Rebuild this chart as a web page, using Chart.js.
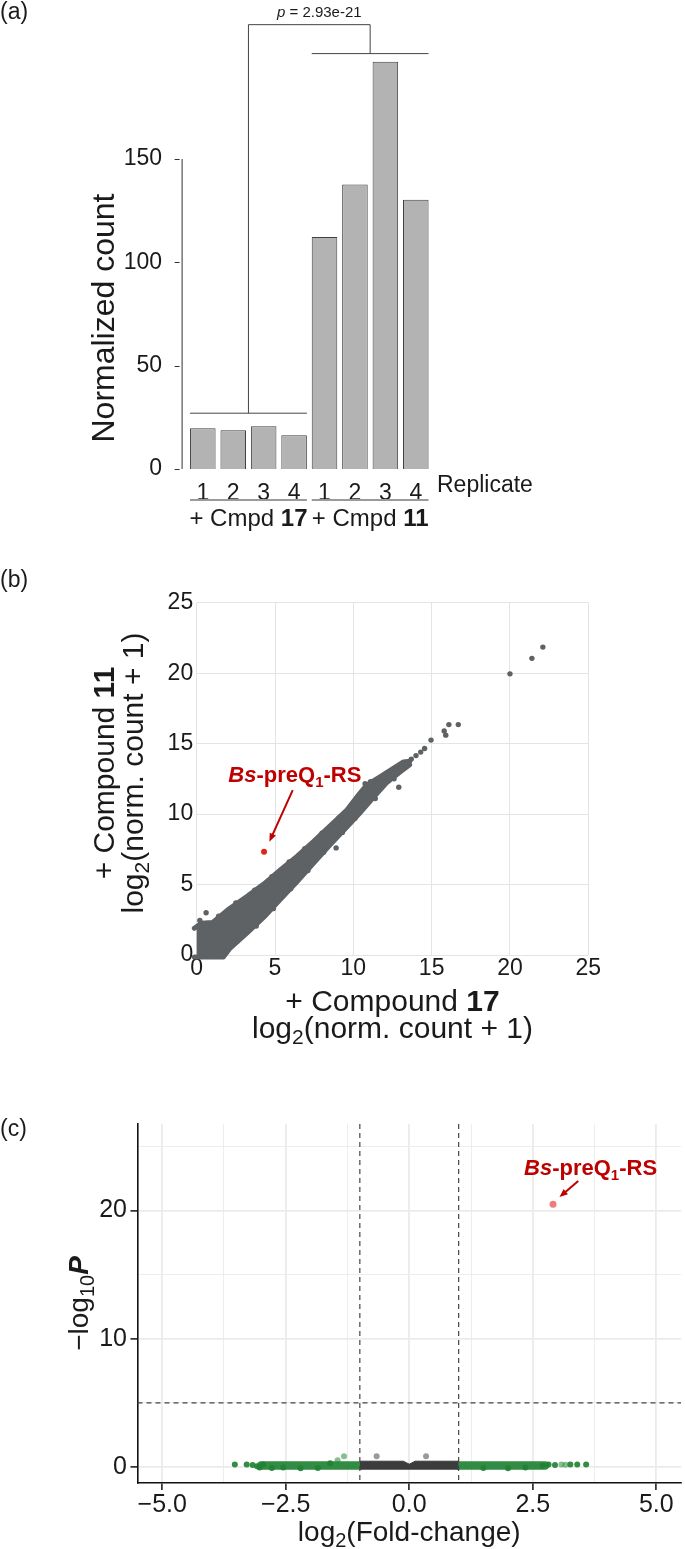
<!DOCTYPE html>
<html>
<head>
<meta charset="utf-8">
<title>Bs-preQ1-RS read counts</title>
<script src="https://cdn.jsdelivr.net/npm/chart.js@4.4.1/dist/chart.umd.min.js"></script>
<style>
  html, body { margin: 0; padding: 0; background: #fff; }
  #page { position: relative; width: 685px; height: 1549px; overflow: hidden; background: #fff; }
  #page canvas { position: absolute; left: 0; }
</style>
</head>
<body>
<div id="page">
  <canvas id="barChart" width="685" height="545" style="top:0"></canvas>
  <canvas id="scatterChart" width="685" height="500" style="top:555px"></canvas>
  <canvas id="volcanoChart" width="685" height="519" style="top:1030px"></canvas>
</div>
<script>
// ---- (a) normalized count of the riboswitch, 4 replicates per compound
var replicateLabels = ['1', '2', '3', '4', '1', '2', '3', '4'];
var normalizedCounts = [19.7, 18.8, 20.7, 16.3, 112.2, 137.7, 197.1, 130.3];
var countTicks = [0, 50, 100, 150];
var compoundNumbers = ['17', '11'];
var bracketLevels = [27, 201, 215];   // left group bar, right group bar, bracket top
var pValueText = '2.93e-21';

// ---- (b) log2(norm. count + 1), compound 17 (x) vs compound 11 (y)
var log2Ticks = [0, 5, 10, 15, 20, 25];
var cloudUpper = [
  { x: -0.15, y: 1.9 }, { x: 0.3, y: 2.25 }, { x: 1.0, y: 2.3 }, { x: 2.1, y: 3.3 },
  { x: 3.2, y: 4.15 }, { x: 4.3, y: 5.05 }, { x: 5.3, y: 6.0 }, { x: 6.4, y: 7.0 },
  { x: 7.45, y: 8.05 }, { x: 8.5, y: 9.15 }, { x: 9.6, y: 10.3 }, { x: 10.4, y: 11.45 },
  { x: 10.85, y: 12.05 }, { x: 11.7, y: 12.65 }, { x: 12.55, y: 13.25 }, { x: 13.2, y: 13.7 },
  { x: 13.6, y: 13.75 }
];
var cloudLower = [
  { x: -0.15, y: -0.15 }, { x: 1.7, y: -0.15 }, { x: 2.1, y: 0.45 }, { x: 3.2, y: 1.55 },
  { x: 4.3, y: 2.7 }, { x: 5.3, y: 3.9 }, { x: 6.4, y: 5.2 }, { x: 7.45, y: 6.5 },
  { x: 8.5, y: 7.8 }, { x: 9.6, y: 9.1 }, { x: 10.4, y: 10.05 }, { x: 11.3, y: 11.2 },
  { x: 12.1, y: 12.2 }, { x: 13.0, y: 13.0 }, { x: 13.6, y: 13.5 }
];
var cloudPoints = [
  { x: 0.6, y: 3.0 }, { x: 0.2, y: 2.45 }, { x: 1.4, y: 2.75 }, { x: 2.5, y: 3.7 },
  { x: 3.7, y: 4.6 }, { x: 4.8, y: 5.55 }, { x: 5.9, y: 6.6 }, { x: 6.9, y: 7.55 },
  { x: 8.0, y: 8.65 }, { x: 9.1, y: 9.75 }, { x: 10.2, y: 10.95 }, { x: 10.75, y: 12.15 },
  { x: 11.1, y: 12.3 }, { x: 11.3, y: 12.0 }, { x: 12.2, y: 12.95 },
  { x: 2.6, y: 1.0 }, { x: 3.8, y: 2.05 }, { x: 4.9, y: 3.3 }, { x: 6.0, y: 4.7 },
  { x: 7.1, y: 6.0 }, { x: 8.1, y: 7.3 }, { x: 9.3, y: 8.7 }, { x: 10.1, y: 9.7 },
  { x: 11.4, y: 11.1 }, { x: 12.6, y: 12.5 }, { x: 8.9, y: 7.6 }, { x: 12.9, y: 11.9 },
  { x: 13.4, y: 13.6 }, { x: 13.7, y: 13.9 }, { x: 14.0, y: 14.15 }, { x: 14.3, y: 14.4 },
  { x: 14.55, y: 14.65 }, { x: 14.96, y: 15.25 }, { x: 15.8, y: 15.9 }, { x: 15.9, y: 15.6 },
  { x: 16.1, y: 16.35 }, { x: 16.7, y: 16.35 }, { x: 20.0, y: 19.95 }, { x: 21.4, y: 21.05 },
  { x: 22.1, y: 21.85 }
];
var riboswitchCounts = [{ x: 4.3, y: 7.33 }];

// ---- (c) volcano: log2 fold-change vs -log10 P
var foldTicks = [-5, -3.75, -2.5, -1.25, 0, 1.25, 2.5, 3.75, 5];
var foldMajor = [-5, -2.5, 0, 2.5, 5];
var pTicks = [0, 5, 10, 15, 20, 25];
var pMajor = [0, 10, 20];
var foldCutoffs = [-1, 1];
var pCutoff = 5;
var downBand = [{ x: -3.0, y: 0.12 }, { x: -1.0, y: 0.12 }];
var upBand = [{ x: 1.0, y: 0.12 }, { x: 2.75, y: 0.12 }];
var flatBandTop = [
  { x: -1.0, y: 0.45 }, { x: -0.12, y: 0.45 }, { x: 0, y: 0.22 }, { x: 0.12, y: 0.45 }, { x: 1.0, y: 0.45 }
];
var downPoints = [
  { x: -3.53, y: 0.2 }, { x: -3.29, y: 0.2 }, { x: -3.17, y: 0.15 }, { x: -3.08, y: 0.05 },
  { x: -3.03, y: -0.05 }, { x: -2.96, y: 0.2 }, { x: -2.78, y: -0.08 }, { x: -2.55, y: -0.05 },
  { x: -2.2, y: -0.1 }, { x: -1.85, y: -0.08 }, { x: -1.6, y: 0.3 }
];
var upPoints = [
  { x: 2.7, y: 0.1 }, { x: 2.82, y: 0.2 }, { x: 2.95, y: 0.15 }, { x: 3.26, y: 0.2 },
  { x: 3.4, y: 0.2 }, { x: 3.58, y: 0.2 }, { x: 1.5, y: -0.08 }, { x: 2.0, y: -0.1 }, { x: 2.35, y: -0.05 }
];
var faintPoints = [{ x: -1.32, y: 0.83 }, { x: -1.45, y: 0.52 }, { x: 3.08, y: 0.2 }, { x: 3.16, y: 0.18 }];
var flatPoints = [{ x: -0.66, y: 0.83 }, { x: 0.34, y: 0.83 }];
var riboswitchVolcano = [{ x: 2.91, y: 20.49 }];

var FONT = '"Liberation Sans", Arial, Helvetica, sans-serif';
var INK = '#1a1a1a';
var LABEL_RED = '#bf0000';
var BS_LABEL = [{ t: 'Bs', b: 1, i: 1 }, { t: '-preQ', b: 1 }, { t: '1', b: 1, sub: 1 }, { t: '-RS', b: 1 }];

Chart.defaults.font.family = FONT;
Chart.defaults.color = INK;

function fontSpec(part, size) {
  var s = part.sub ? Math.round(size * 0.7) : size;
  return (part.i ? 'italic ' : '') + (part.b ? 'bold ' : '') + s + 'px ' + FONT;
}

// one line of mixed styles (bold numbers, italic names, subscripts)
function richText(ctx, parts, x, y, size, align) {
  var widths = [], total = 0;
  parts.forEach(function (p) {
    ctx.font = fontSpec(p, size);
    var w = ctx.measureText(p.t).width;
    widths.push(w);
    total += w;
  });
  var cx = align === 'center' ? x - total / 2 : (align === 'right' ? x - total : x);
  ctx.textAlign = 'left';
  ctx.textBaseline = 'middle';
  parts.forEach(function (p, i) {
    ctx.font = fontSpec(p, size);
    ctx.fillText(p.t, cx, y + (p.sub ? size * 0.3 : 0));
    cx += widths[i];
  });
}

function rotatedText(ctx, parts, x, y, size) {
  ctx.save();
  ctx.translate(x, y);
  ctx.rotate(-Math.PI / 2);
  richText(ctx, parts, 0, 0, size, 'center');
  ctx.restore();
}

function stroke(ctx, pts, color, width, dash) {
  ctx.beginPath();
  ctx.strokeStyle = color;
  ctx.lineWidth = width;
  ctx.setLineDash(dash || []);
  ctx.moveTo(pts[0], pts[1]);
  for (var i = 2; i < pts.length; i += 2) ctx.lineTo(pts[i], pts[i + 1]);
  ctx.stroke();
  ctx.setLineDash([]);
}

function arrow(ctx, x1, y1, x2, y2, color) {
  var a = Math.atan2(y2 - y1, x2 - x1), len = 9;
  stroke(ctx, [x1, y1, x2 - Math.cos(a) * 4, y2 - Math.sin(a) * 4], color, 2);
  ctx.beginPath();
  ctx.fillStyle = color;
  ctx.moveTo(x2, y2);
  ctx.lineTo(x2 - len * Math.cos(a - 0.38), y2 - len * Math.sin(a - 0.38));
  ctx.lineTo(x2 - len * Math.cos(a + 0.38), y2 - len * Math.sin(a + 0.38));
  ctx.closePath();
  ctx.fill();
}

function fixedTicks(list) {
  return function (scale) {
    scale.ticks = list.map(function (v) { return { value: v }; });
  };
}

function minusFormat(v) {
  return (v < 0 ? '\u2212' : '') + Math.abs(v).toFixed(1);
}

// ---------------- (a) bar chart ----------------
var barDecor = {
  id: 'barDecor',
  afterDraw: function (chart) {
    var ctx = chart.ctx, xs = chart.scales.x, ys = chart.scales.y, area = chart.chartArea;
    var step = xs.getPixelForValue(1) - xs.getPixelForValue(0);
    var half = step * 0.84 / 2;
    ctx.save();

    // capped y axis, 0..150, a little left of the first bar
    var axisX = area.left - 5.5;
    stroke(ctx, [axisX, ys.getPixelForValue(0), axisX, ys.getPixelForValue(countTicks[countTicks.length - 1])], '#333', 1);
    countTicks.forEach(function (v) {
      var py = Math.round(ys.getPixelForValue(v)) + 0.5;
      stroke(ctx, [axisX - 7.5, py, axisX - 2.5, py], '#333', 1);
    });

    // significance bracket
    var g1 = ys.getPixelForValue(bracketLevels[0]);
    var g2 = ys.getPixelForValue(bracketLevels[1]);
    var top = ys.getPixelForValue(bracketLevels[2]);
    var bx1 = xs.getPixelForValue(1.5), bx2 = xs.getPixelForValue(5.5);
    stroke(ctx, [xs.getPixelForValue(0) - half, g1, xs.getPixelForValue(3) + half, g1], '#444', 1);
    stroke(ctx, [xs.getPixelForValue(4) - half, g2, xs.getPixelForValue(7) + half, g2], '#444', 1);
    stroke(ctx, [bx1, g1, bx1, top, bx2, top, bx2, g2], '#444', 1);
    ctx.fillStyle = INK;
    richText(ctx, [{ t: 'p', i: 1 }, { t: ' = ' + pValueText }], (bx1 + bx2) / 2 + 10, top - 12, 15, 'center');

    // replicate axis and compound groups
    var rowY = area.bottom + 17;
    ctx.fillStyle = INK;
    richText(ctx, [{ t: 'Replicate' }], area.right + 6, rowY, 23, 'left');
    var lineY = area.bottom + 31;
    for (var g = 0; g < 2; g++) {
      var l = xs.getPixelForValue(g * 4) - half;
      var r = xs.getPixelForValue(g * 4 + 3) + half;
      stroke(ctx, [l, lineY, r, lineY], '#9a9a9a', 2);
      ctx.fillStyle = INK;
      richText(ctx, [{ t: '+ Cmpd ' }, { t: compoundNumbers[g], b: 1 }], (l + r) / 2, lineY + 19, 24, 'center');
    }

    rotatedText(ctx, [{ t: 'Normalized count' }], 105.5, 318, 32);
    richText(ctx, [{ t: '(a)' }], 0, 13, 23, 'left');
    ctx.restore();
  }
};

new Chart(document.getElementById('barChart'), {
  type: 'bar',
  data: {
    labels: replicateLabels,
    datasets: [{
      data: normalizedCounts,
      backgroundColor: '#b3b3b3',
      borderColor: '#3f3f3f',
      borderWidth: 1,
      barPercentage: 0.84,
      categoryPercentage: 1
    }]
  },
  options: {
    responsive: false,
    animation: false,
    devicePixelRatio: 1,
    layout: { padding: { left: 0, right: 254, top: 32, bottom: 46 } },
    plugins: { legend: { display: false }, tooltip: { enabled: false } },
    scales: {
      x: {
        grid: { display: false },
        border: { display: false },
        ticks: { color: INK, font: { size: 23 }, padding: 3, maxRotation: 0, autoSkip: false },
        afterFit: function (s) { s.height = 30; }
      },
      y: {
        min: 0,
        max: 211.45,
        grid: { display: false },
        border: { display: false },
        ticks: { color: INK, font: { size: 23 }, padding: 17.6 },
        afterBuildTicks: fixedTicks(countTicks),
        afterFit: function (s) { s.width = 187.6; }
      }
    }
  },
  plugins: [barDecor]
});

// ---------------- (b) scatter ----------------
var CLOUD = '#5e6265';
var scatterDecor = {
  id: 'scatterDecor',
  afterDraw: function (chart) {
    var ctx = chart.ctx, xs = chart.scales.x, ys = chart.scales.y, area = chart.chartArea;
    var cx = (area.left + area.right) / 2;
    ctx.save();
    ctx.fillStyle = INK;
    richText(ctx, [{ t: '(b)' }], 0, 26, 23, 'left');
    richText(ctx, [{ t: '+ Compound ' }, { t: '17', b: 1 }], cx, 447.5, 30, 'center');
    richText(ctx, [{ t: 'log' }, { t: '2', sub: 1 }, { t: '(norm. count + 1)' }], cx, 474.5, 30, 'center');
    rotatedText(ctx, [{ t: '+ Compound ' }, { t: '11', b: 1 }], 106, 218, 30);
    rotatedText(ctx, [{ t: 'log' }, { t: '2', sub: 1 }, { t: '(norm. count + 1)' }], 134.5, 218, 30);

    ctx.fillStyle = LABEL_RED;
    richText(ctx, BS_LABEL, xs.getPixelForValue(2.02), ys.getPixelForValue(12.13) - 8, 22, 'left');
    arrow(ctx, xs.getPixelForValue(6.13), ys.getPixelForValue(11.7),
      xs.getPixelForValue(4.64), ys.getPixelForValue(8.04), LABEL_RED);
    ctx.restore();
  }
};

var gridB = { color: '#e4e4e4', lineWidth: 1, drawTicks: false };
new Chart(document.getElementById('scatterChart'), {
  type: 'scatter',
  data: {
    datasets: [
      { data: riboswitchCounts, backgroundColor: '#e3241c', borderWidth: 0, pointRadius: 3, clip: false },
      { data: cloudPoints, backgroundColor: CLOUD, borderWidth: 0, pointRadius: 2.7, clip: false },
      {
        type: 'line', data: cloudUpper, borderColor: CLOUD, backgroundColor: CLOUD, borderWidth: 5,
        borderJoinStyle: 'round', borderCapStyle: 'round', pointRadius: 0, tension: 0, fill: '+1', clip: false
      },
      {
        type: 'line', data: cloudLower, borderColor: CLOUD, backgroundColor: CLOUD, borderWidth: 5,
        borderJoinStyle: 'round', borderCapStyle: 'round', pointRadius: 0, tension: 0, fill: false, clip: false
      }
    ]
  },
  options: {
    responsive: false,
    animation: false,
    devicePixelRatio: 1,
    layout: { padding: { left: 0, right: 96.7, top: 47.7, bottom: 70 } },
    plugins: { legend: { display: false }, tooltip: { enabled: false } },
    scales: {
      x: {
        type: 'linear', min: 0, max: 25,
        grid: gridB, border: { display: false },
        ticks: { color: INK, font: { size: 23 }, padding: 0 },
        afterBuildTicks: fixedTicks(log2Ticks),
        afterFit: function (s) { s.height = 30; }
      },
      y: {
        type: 'linear', min: 0, max: 25,
        grid: gridB, border: { display: false },
        ticks: { color: INK, font: { size: 23 }, padding: 3.5 },
        afterBuildTicks: fixedTicks(log2Ticks),
        afterFit: function (s) { s.width = 196.7; }
      }
    }
  },
  plugins: [scatterDecor]
});

// ---------------- (c) volcano ----------------
var GREEN = 'rgba(34,130,52,0.92)';
var GREEN_FAINT = 'rgba(34,139,52,0.55)';
var volcanoDecor = {
  id: 'volcanoDecor',
  afterDatasetsDraw: function (chart) {
    var ctx = chart.ctx, xs = chart.scales.x, ys = chart.scales.y, area = chart.chartArea;
    ctx.save();
    foldCutoffs.forEach(function (v) {
      var px = xs.getPixelForValue(v);
      stroke(ctx, [px, area.top, px, area.bottom], '#444', 1.2, [5, 4]);
    });
    var py = ys.getPixelForValue(pCutoff);
    stroke(ctx, [area.left, py, area.right, py], '#444', 1.2, [5, 4]);
    ctx.restore();
  },
  afterDraw: function (chart) {
    var ctx = chart.ctx, xs = chart.scales.x, ys = chart.scales.y, area = chart.chartArea;
    ctx.save();
    ctx.fillStyle = INK;
    richText(ctx, [{ t: '(c)' }], 0, 100, 23, 'left');
    richText(ctx, [{ t: 'log' }, { t: '2', sub: 1 }, { t: '(Fold-change)' }], (area.left + area.right) / 2, 503, 28, 'center');
    rotatedText(ctx, [{ t: '\u2212log' }, { t: '10', sub: 1 }, { t: 'P', i: 1, b: 1 }], 80, (area.top + area.bottom) / 2, 28);

    ctx.fillStyle = LABEL_RED;
    richText(ctx, BS_LABEL, xs.getPixelForValue(3.67), ys.getPixelForValue(22.6) - 8, 22, 'center');
    arrow(ctx, xs.getPixelForValue(3.42), ys.getPixelForValue(22.3),
      xs.getPixelForValue(3.04), ys.getPixelForValue(21.05), LABEL_RED);
    ctx.restore();
  }
};

function majorWidth(list) {
  return function (c) { return c.tick && list.indexOf(c.tick.value) >= 0 ? 1.8 : 0.9; };
}
function majorTick(list) {
  return function (c) { return c.tick && list.indexOf(c.tick.value) >= 0 ? '#111' : 'rgba(0,0,0,0)'; };
}

new Chart(document.getElementById('volcanoChart'), {
  type: 'scatter',
  data: {
    datasets: [
      { data: riboswitchVolcano, backgroundColor: '#f27b7b', borderWidth: 0, pointRadius: 3.5 },
      { data: flatPoints, backgroundColor: '#9a9a9a', borderWidth: 0, pointRadius: 3 },
      { data: faintPoints, backgroundColor: GREEN_FAINT, borderWidth: 0, pointRadius: 3 },
      { data: downPoints, backgroundColor: GREEN, borderWidth: 0, pointRadius: 3 },
      { data: upPoints, backgroundColor: GREEN, borderWidth: 0, pointRadius: 3 },
      {
        type: 'line', data: flatBandTop, borderColor: '#3c3c3c', backgroundColor: '#3c3c3c',
        borderWidth: 1, pointRadius: 0, tension: 0, fill: { value: -0.22 }
      },
      {
        type: 'line', data: downBand, borderColor: GREEN, borderWidth: 8.5,
        borderCapStyle: 'round', pointRadius: 0, fill: false
      },
      {
        type: 'line', data: upBand, borderColor: GREEN, borderWidth: 8.5,
        borderCapStyle: 'round', pointRadius: 0, fill: false
      }
    ]
  },
  options: {
    responsive: false,
    animation: false,
    devicePixelRatio: 1,
    layout: { padding: { left: 0, right: 0, top: 94, bottom: 30 } },
    plugins: { legend: { display: false }, tooltip: { enabled: false } },
    scales: {
      x: {
        type: 'linear', min: -5.5, max: 5.5,
        grid: { color: '#ebebeb', lineWidth: majorWidth(foldMajor), tickColor: majorTick(foldMajor), tickLength: 7, tickWidth: 1.5 },
        border: { display: true, color: '#111', width: 1.6 },
        ticks: {
          color: INK, font: { size: 25 }, padding: 0,
          callback: function (v) { return foldMajor.indexOf(v) >= 0 ? minusFormat(v) : ''; }
        },
        afterBuildTicks: fixedTicks(foldTicks),
        afterFit: function (s) { s.height = 36; }
      },
      y: {
        type: 'linear', min: -1.25, max: 26.75,
        grid: { color: '#ebebeb', lineWidth: majorWidth(pMajor), tickColor: majorTick(pMajor), tickLength: 7, tickWidth: 1.5 },
        border: { display: true, color: '#111', width: 1.6 },
        ticks: {
          color: INK, font: { size: 25 }, padding: 3.5,
          callback: function (v) { return pMajor.indexOf(v) >= 0 ? String(v) : ''; }
        },
        afterBuildTicks: fixedTicks(pTicks),
        afterFit: function (s) { s.width = 137.5; }
      }
    }
  },
  plugins: [volcanoDecor]
});
</script>
</body>
</html>
